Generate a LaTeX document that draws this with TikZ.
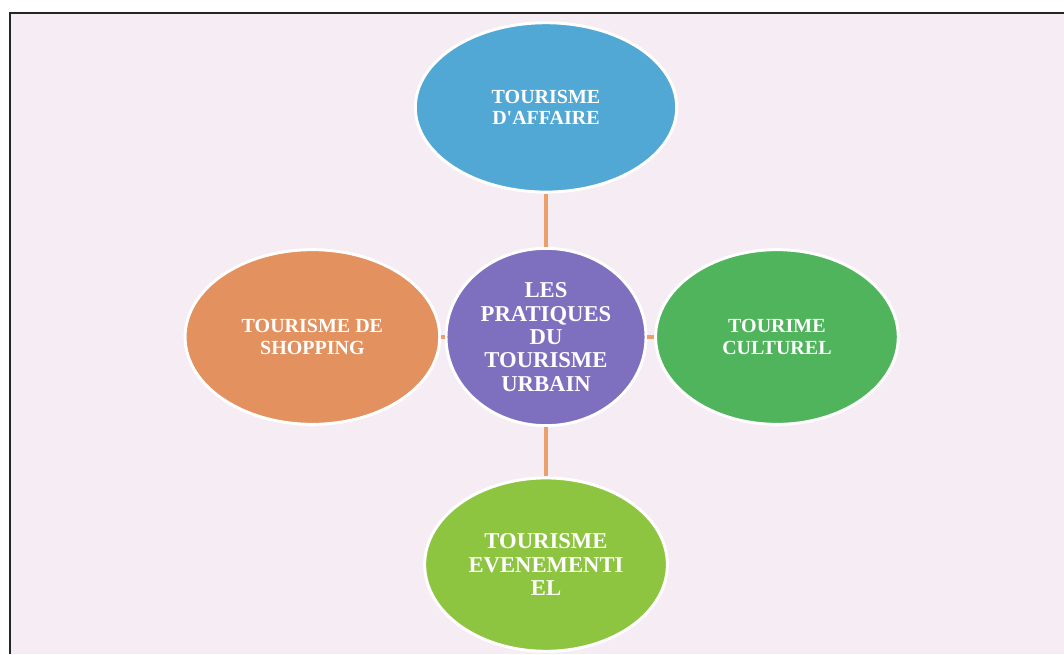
\documentclass[tikz,border=0pt]{standalone}
\usepackage{fontspec}
\setmainfont{Liberation Serif}[Ligatures=TeXOff]
\usetikzlibrary{shapes.geometric, positioning}

\definecolor{fondrose}{HTML}{F6ECF3}
\definecolor{bleuaff}{HTML}{52A8D4}
\definecolor{violetcentre}{HTML}{7F70BF}
\definecolor{orangeshop}{HTML}{E2915F}
\definecolor{vertcult}{HTML}{4FB45B}
\definecolor{vertevent}{HTML}{8DC540}
\definecolor{lienorange}{HTML}{E9A06B}

\begin{document}
\begin{tikzpicture}[x=0.75pt, y=-0.75pt,
        bulle/.style={ellipse, draw=white, line width=2.2pt, inner sep=0pt, align=center, text=white, font=\bfseries\fontsize{15}{16}\selectfont},
        grande/.style={font=\bfseries\fontsize{17}{17.5}\selectfont},
        lien/.style={draw=lienorange, line width=3.6pt}
    ]
        \useasboundingbox (0,0) rectangle (1064,654);
        \fill[fondrose] (10,13) rectangle (1064,654);
        \draw[line width=1.5pt, black!85] (1064,13) -- (10,13) -- (10,654);

        \node[bulle, grande, fill=violetcentre, minimum width=150pt, minimum height=133pt] (centre) at (546,337) {LES\\PRATIQUES\\DU\\TOURISME\\URBAIN};
        \node[bulle, fill=bleuaff, minimum width=196pt, minimum height=127pt, above=40pt of centre] (affaire) {TOURISME\\D'AFFAIRE};
        \node[bulle, fill=orangeshop, minimum width=191pt, minimum height=131pt, left=2.5pt of centre] (shopping) {TOURISME DE\\SHOPPING};
        \node[bulle, fill=vertcult, minimum width=182pt, minimum height=131pt, right=5pt of centre] (culturel) {TOURIME\\CULTUREL};
        \node[bulle, grande, fill=vertevent, minimum width=182pt, minimum height=130pt, below=37pt of centre] (event) {TOURISME\\EVENEMENTI\\EL};

        \draw[lien] (affaire) -- (centre);
        \draw[lien] (centre) -- (event);
        \draw[lien] (shopping) -- (centre);
        \draw[lien] (centre) -- (culturel);
    \end{tikzpicture}
\end{document}
